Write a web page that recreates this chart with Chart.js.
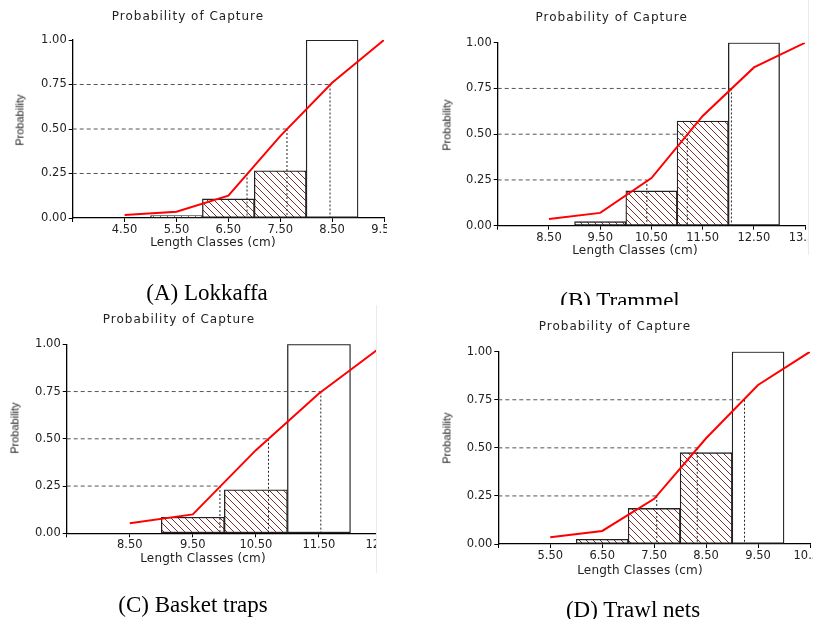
<!DOCTYPE html>
<html>
<head>
<meta charset="utf-8">
<script src="https://cdn.jsdelivr.net/npm/chart.js@4.4.1/dist/chart.umd.min.js"></script>
<style>
  body { margin:0; background:#fff; width:813px; height:619px; position:relative; overflow:hidden; font-family:"DejaVu Sans", sans-serif; }
  .panel { position:absolute; overflow:hidden; background:#fff; }
  .panel canvas { position:absolute; left:0; top:0; }
  .edge { position:absolute; width:1px; background:#ecece6; }
  .txt { position:absolute; transform:translate(-50%,-50%); white-space:nowrap; color:#222; line-height:1; }
  .title { font-size:12px; letter-spacing:1px; }
  .xtitle { font-size:12px; letter-spacing:0.2px; }
  .ytitle { font-family:"Liberation Sans Narrow","Liberation Sans",sans-serif; font-size:11px; transform:translate(-50%,-50%) rotate(-90deg); }
  .caption { font-family:"Liberation Serif","Times New Roman",serif; font-size:23px; color:#000; }
</style>
</head>
<body>
<div class="edge" style="left:808px; top:0; height:255px;"></div>
<div class="edge" style="left:376px; top:305px; height:268px;"></div>
<script>
// probability levels used for the selection lengths L25, L50, L75
const levels = [0.25, 0.50, 0.75];
const yTickLabels = ["0.00", "0.25", "0.50", "0.75", "1.00"];

// (A) Lokkaffa
const classesA = [4.5, 5.5, 6.5, 7.5, 8.5, 9.5];
const probA = [0.017, 0.035, 0.125, 0.46, 0.76, 1.0];
const barXA = [5.5, 6.5, 7.5, 8.5];
const barYA = [0.013, 0.107, 0.265, 1.0];
const lcA = [6.86, 7.63, 8.46];
const xLabelsA = ["4.50", "5.50", "6.50", "7.50", "8.50", "9.50"];

// (B) Trammel
const classesB = [8.5, 9.5, 10.5, 11.5, 12.5, 13.5];
const probB = [0.036, 0.07, 0.26, 0.60, 0.865, 1.0];
const barXB = [9.5, 10.5, 11.5, 12.5];
const barYB = [0.022, 0.19, 0.572, 1.0];
const lcB = [10.41, 11.2, 12.06];
const xLabelsB = ["8.50", "9.50", "10.50", "11.50", "12.50", "13.50"];

// (C) Basket traps
const classesC = [8.5, 9.5, 10.5, 11.5, 12.5];
const probC = [0.053, 0.10, 0.44, 0.74, 0.99];
const barXC = [9.5, 10.5, 11.5];
const barYC = [0.085, 0.23, 1.0];
const lcC = [9.93, 10.7, 11.53];
const xLabelsC = ["8.50", "9.50", "10.50", "11.50", "12.50"];

// (D) Trawl nets
const classesD = [5.5, 6.5, 7.5, 8.5, 9.5, 10.5];
const probD = [0.035, 0.068, 0.235, 0.55, 0.827, 1.0];
const barXD = [6.5, 7.5, 8.5, 9.5];
const barYD = [0.024, 0.185, 0.475, 1.0];
const lcD = [7.55, 8.33, 9.24];
const xLabelsD = ["5.50", "6.50", "7.50", "8.50", "9.50", "10.50"];

const panels = [
  { name: "(A) Lokkaffa", classes: classesA, prob: probA, barX: barXA, barY: barYA, lc: lcA, xLabels: xLabelsA,
    xmin: 3.5, xmax: 9.5,
    box: { left: 0, top: 0, w: 387, h: 305, cw: 430, ch: 240 }, area: { l: 72.7, r: 384, t: 40, b: 218 },
    title: [188, 16], xt: [213, 242], yt: [20, 120], cap: [207, 292] },
  { name: "(B) Trammel", classes: classesB, prob: probB, barX: barXB, barY: barYB, lc: lcB, xLabels: xLabelsB,
    xmin: 7.5, xmax: 13.5,
    box: { left: 400, top: 0, w: 408, h: 305, cw: 450, ch: 248 }, area: { l: 97.7, r: 405.2, t: 42.7, b: 225.7 },
    title: [211.7, 17.3], xt: [235, 250], yt: [46.7, 125], cap: [220, 300] },
  { name: "(C) Basket traps", classes: classesC, prob: probC, barX: barXC, barY: barYC, lc: lcC, xLabels: xLabelsC,
    xmin: 7.5, xmax: 12.5,
    box: { left: 0, top: 305, w: 376, h: 314, cw: 430, ch: 250 }, area: { l: 66.7, r: 382, t: 39.3, b: 228.3 },
    title: [179, 14], xt: [203, 253], yt: [15, 123], cap: [193, 299] },
  { name: "(D) Trawl nets", classes: classesD, prob: probD, barX: barXD, barY: barYD, lc: lcD, xLabels: xLabelsD,
    xmin: 4.5, xmax: 10.5,
    box: { left: 400, top: 305, w: 413, h: 314, cw: 450, ch: 262 }, area: { l: 98.3, r: 410, t: 46.7, b: 239 },
    title: [215, 20.7], xt: [240, 265], yt: [46.7, 133], cap: [233, 304] },
];

const tickFont = { family: "DejaVu Sans", size: 11.5 };

function hatch(ctx) {
  const c = document.createElement("canvas");
  c.width = 7; c.height = 7;
  const g = c.getContext("2d");
  g.fillStyle = "#fff";
  g.fillRect(0, 0, 7, 7);
  g.strokeStyle = "#7a3030";
  g.lineWidth = 1;
  g.beginPath();
  g.moveTo(-1, -1); g.lineTo(8, 8);
  g.moveTo(-1, 6); g.lineTo(1, 8);
  g.moveTo(6, -1); g.lineTo(8, 1);
  g.stroke();
  return ctx.createPattern(c, "repeat");
}

function addText(parent, cls, text, pos) {
  const d = document.createElement("div");
  d.className = "txt " + cls;
  d.textContent = text;
  d.style.left = pos[0] + "px";
  d.style.top = pos[1] + "px";
  parent.appendChild(d);
}

panels.forEach((p) => {
  const wrap = document.createElement("div");
  wrap.className = "panel";
  wrap.style.left = p.box.left + "px";
  wrap.style.top = p.box.top + "px";
  wrap.style.width = p.box.w + "px";
  wrap.style.height = p.box.h + "px";
  document.body.appendChild(wrap);

  const canvas = document.createElement("canvas");
  canvas.width = p.box.cw;
  canvas.height = p.box.ch;
  wrap.appendChild(canvas);

  addText(wrap, "title", "Probability of Capture", p.title);
  addText(wrap, "xtitle", "Length Classes (cm)", p.xt);
  addText(wrap, "ytitle", "Probability", p.yt);
  addText(wrap, "caption", p.name, p.cap);

  const ctx = canvas.getContext("2d");
  const pattern = hatch(ctx);
  const last = p.barX.length - 1;

  // dashed guides: from the y axis to the curve, then down to the x axis
  const hData = [];
  const vData = [];
  levels.forEach((lv, i) => {
    hData.push({ x: p.xmin, y: lv }, { x: p.lc[i], y: lv }, { x: p.lc[i], y: null });
    vData.push({ x: p.lc[i], y: lv }, { x: p.lc[i], y: 0 }, { x: p.lc[i], y: null });
  });

  const gridOpts = { display: true, drawOnChartArea: false, drawTicks: true, tickLength: 4, color: "#000", lineWidth: 1, offset: false };

  new Chart(ctx, {
    type: "bar",
    data: {
      datasets: [
        {
          type: "line",
          data: p.classes.map((x, i) => ({ x: x, y: p.prob[i] })),
          borderColor: "#ff0000",
          borderWidth: 2,
          pointRadius: 0,
          tension: 0,
          order: 1,
        },
        {
          type: "line",
          data: vData,
          borderColor: "#222",
          borderWidth: 1,
          borderDash: [2, 2],
          pointRadius: 0,
          spanGaps: false,
          order: 2,
        },
        {
          type: "line",
          data: hData,
          borderColor: "#555",
          borderWidth: 1,
          borderDash: [4, 3],
          pointRadius: 0,
          spanGaps: false,
          order: 2,
        },
        {
          type: "bar",
          data: p.barX.map((x, i) => ({ x: x, y: p.barY[i] })),
          backgroundColor: p.barX.map((x, i) => (i === last ? "#fff" : pattern)),
          borderColor: "#222",
          borderWidth: 1.3,
          borderSkipped: false,
          barPercentage: 1,
          categoryPercentage: 1,
          order: 3,
        },
      ],
    },
    options: {
      responsive: false,
      animation: false,
      events: [],
      layout: { padding: { left: 0, top: p.area.t, right: p.box.cw - p.area.r, bottom: 0 } },
      plugins: { legend: { display: false }, tooltip: { enabled: false } },
      scales: {
        x: {
          type: "linear",
          min: p.xmin,
          max: p.xmax,
          offset: false,
          grid: gridOpts,
          border: { color: "#000", width: 1.3 },
          ticks: {
            stepSize: 1,
            autoSkip: false,
            maxRotation: 0,
            padding: 1,
            color: "#222",
            font: tickFont,
            callback: (v) => {
              const i = p.classes.findIndex((c) => Math.abs(c - v) < 1e-6);
              return i >= 0 ? p.xLabels[i] : "";
            },
          },
          afterFit: (s) => { s.height = p.box.ch - p.area.b; },
        },
        y: {
          min: 0,
          max: 1,
          grid: gridOpts,
          border: { color: "#000", width: 1.3 },
          ticks: {
            stepSize: 0.25,
            padding: 2,
            color: "#222",
            font: tickFont,
            callback: (v) => yTickLabels[Math.round(v * 4)],
          },
          afterFit: (s) => { s.width = p.area.l; },
        },
      },
    },
  });
});
</script>
</body>
</html>
